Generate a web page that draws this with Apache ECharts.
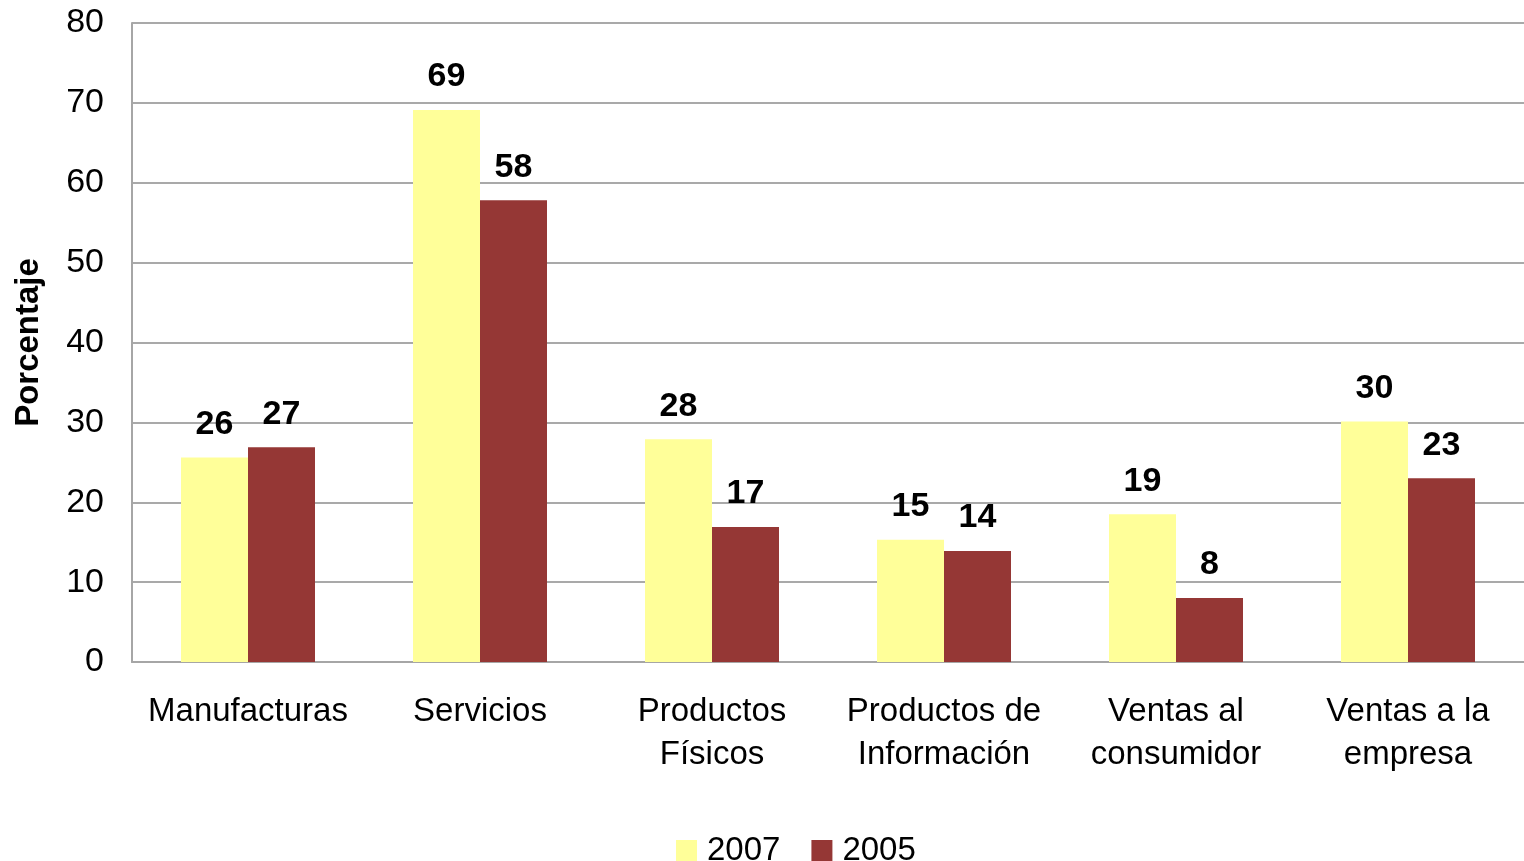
<!DOCTYPE html>
<html>
<head>
<meta charset="utf-8">
<script src="https://cdn.jsdelivr.net/npm/echarts@6/dist/echarts.min.js"></script>
<style>
  html, body { margin: 0; padding: 0; background: #fff; }
  #chart { width: 1524px; height: 861px; }
</style>
</head>
<body>
<div id="chart"></div>
<script>
// categories and values
const categories = [
  "Manufacturas",
  "Servicios",
  "Productos\nFísicos",
  "Productos de\nInformación",
  "Ventas al\nconsumidor",
  "Ventas a la\nempresa"
];
const values2007 = [25.6, 69.1, 27.9, 15.3, 18.5, 30.1];
const values2005 = [26.9, 57.8, 16.9, 13.9, 8.0, 23.0];
const yTicks = [0, 10, 20, 30, 40, 50, 60, 70, 80];

const FONT = "Liberation Sans, Arial, sans-serif";

const chart = echarts.init(document.getElementById("chart"));

const barLabel = {
  show: true,
  position: "top",
  distance: 16,
  fontFamily: FONT,
  fontWeight: "bold",
  fontSize: 34,
  color: "#000",
  formatter: (p) => Math.round(p.value)
};

const option = {
  animation: false,
  grid: { left: 132, right: 0, top: 23, bottom: 199, outerBoundsMode: "none", containLabel: false },
  legend: {
    left: 671,
    top: 829,
    itemWidth: 21,
    itemHeight: 21,
    itemGap: 31,
    icon: "rect",
    textStyle: { fontFamily: FONT, fontSize: 33, color: "#000", padding: [0, 0, 0, 5] },
    data: ["2007", "2005"]
  },
  xAxis: {
    type: "category",
    data: categories,
    axisLine: { lineStyle: { color: "#a6a6a6", width: 2 } },
    axisTick: { show: false },
    axisLabel: {
      interval: 0,
      margin: 28,
      fontFamily: FONT,
      fontSize: 33,
      lineHeight: 43,
      color: "#000"
    }
  },
  yAxis: {
    type: "value",
    min: yTicks[0],
    max: yTicks[yTicks.length - 1],
    interval: 10,
    name: "Porcentaje",
    nameLocation: "middle",
    nameGap: 87,
    nameTextStyle: { fontFamily: FONT, fontWeight: "bold", fontSize: 33, color: "#000" },
    axisLine: { show: true, lineStyle: { color: "#a6a6a6", width: 2 } },
    axisTick: { show: false },
    axisLabel: { margin: 28, fontFamily: FONT, fontSize: 34, color: "#000" },
    splitLine: { lineStyle: { color: "#8c8c8c", width: 1.5 } }
  },
  series: [
    {
      name: "2007",
      type: "bar",
      data: values2007,
      barWidth: 67,
      barGap: "0%",
      itemStyle: { color: "#ffff99" },
      label: barLabel
    },
    {
      name: "2005",
      type: "bar",
      data: values2005,
      barWidth: 67,
      itemStyle: { color: "#953735" },
      label: barLabel
    }
  ]
};

chart.setOption(option);
</script>
</body>
</html>
